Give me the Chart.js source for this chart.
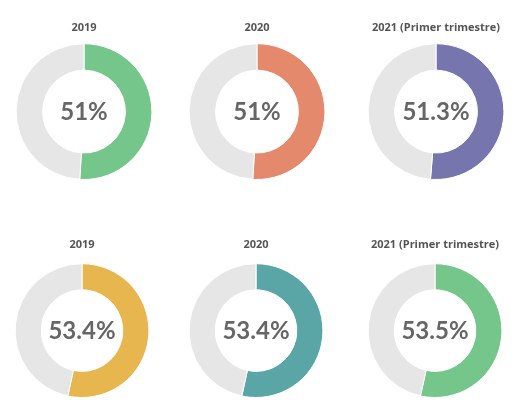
<!DOCTYPE html>
<html>
<head>
<meta charset="utf-8">
<script src="https://cdn.jsdelivr.net/npm/chart.js@4/dist/chart.umd.min.js"></script>
<style>
  html, body { margin:0; padding:0; background:#fff; }
  #wrap { position:relative; width:521px; height:404px; overflow:hidden; }
  .cell { position:absolute; width:168px; height:172px; }
</style>
</head>
<body>
<div id="wrap"></div>
<script>
// ---- data ----
const titles  = ['2019', '2020', '2021 (Primer trimestre)', '2019', '2020', '2021 (Primer trimestre)'];
const values  = [51, 51, 51.3, 53.4, 53.4, 53.5];
const labels  = ['51%', '51%', '51.3%', '53.4%', '53.4%', '53.5%'];
const colors  = ['#74c68a', '#e5896d', '#7775ae', '#e8b64e', '#5aa6a7', '#74c68a'];
const REST    = '#e6e6e6';

// cell layout: [left, top, titlePadTop, titlePadBottom]
const cells = [
  [0,   8, 13, 9], [173, 8, 13, 9], [352, 8, 13, 9],
  [-2, 226, 12, 12], [172, 226, 12, 12], [351, 226, 12, 12]
];

const centerText = {
  id: 'centerText',
  afterDatasetsDraw(chart, args, opts) {
    const meta = chart.getDatasetMeta(0).data[0];
    if (!meta) return;
    const { ctx } = chart;
    ctx.save();
    ctx.font = 'bold 24px Lato, sans-serif';
    ctx.fillStyle = '#666';
    ctx.textAlign = 'center';
    ctx.textBaseline = 'middle';
    ctx.fillText(opts.text, meta.x, meta.y + 1);
    ctx.restore();
  }
};

const wrap = document.getElementById('wrap');
values.forEach((v, i) => {
  const [left, top, pt, pb] = cells[i];
  const div = document.createElement('div');
  div.className = 'cell';
  div.style.left = left + 'px';
  div.style.top  = top + 'px';
  const cv = document.createElement('canvas');
  div.appendChild(cv);
  wrap.appendChild(div);

  new Chart(cv, {
    type: 'doughnut',
    data: {
      labels: ['valor', 'resto'],
      datasets: [{
        data: [v, 100 - v],
        backgroundColor: [colors[i], REST],
        borderColor: '#fff',
        borderWidth: 1,
        cutout: '61%'
      }]
    },
    options: {
      responsive: true,
      maintainAspectRatio: false,
      animation: false,
      layout: { padding: 0 },
      plugins: {
        legend: { display: false },
        tooltip: { enabled: false },
        title: {
          display: true,
          text: titles[i],
          color: '#555',
          font: { family: '"Open Sans", sans-serif', size: 11, weight: 'bold' },
          padding: { top: pt, bottom: pb }
        },
        centerText: { text: labels[i] }
      }
    },
    plugins: [centerText]
  });
});
</script>
</body>
</html>
